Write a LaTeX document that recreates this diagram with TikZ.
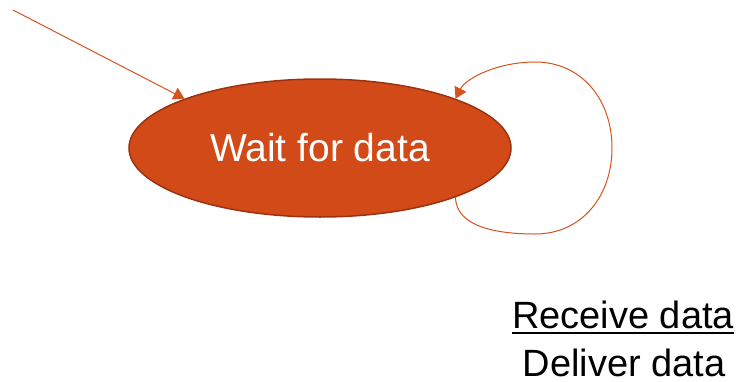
\documentclass[tikz,border=0pt]{standalone}
\usepackage{fontspec}
\setmainfont{Liberation Sans}
\usetikzlibrary{shapes.geometric,arrows.meta}
\definecolor{stateFill}{HTML}{D14A18}
\definecolor{stateEdge}{HTML}{9C3310}
\definecolor{flow}{HTML}{D4531F}
\tikzset{
  state/.style={ellipse, fill=stateFill, draw=stateEdge, line width=1.5pt,
    minimum width=382pt, minimum height=138pt, inner sep=0pt,
    text=white, font=\fontsize{39}{46}\selectfont},
  flowline/.style={draw=flow, line width=1pt,
    -{Triangle[length=11pt,width=13pt]}},
  caption/.style={inner sep=0pt, anchor=base, text depth=0pt,
    font=\fontsize{38}{45}\selectfont}
}
\begin{document}
\begin{tikzpicture}[x=1pt,y=-1pt]
  \useasboundingbox (0,0) rectangle (740,381);
  % the single waiting state
  \node[state] (wait) at (320,148) {Wait for data};
  % entry transition
  \coordinate (entry) at (13,10);
  \draw[flowline] (entry) -- (wait.160);
  % self transition on the right side
  \draw[flowline] (wait.-20)
    .. controls (456,228) and (500,234) .. (535,234)
    .. controls (582,234) and (612,196) .. (612,148)
    .. controls (612,100) and (582,62) .. (535,62)
    .. controls (498,62) and (466,78) .. (wait.20);
  % event / action label
  \node[caption] (recv) at (623,328) {Receive data};
  \draw[line width=1.6pt] ([yshift=-5pt]recv.base west) -- ([yshift=-5pt]recv.base east);
  \node[caption] (deliv) at (624,376) {Deliver data};
\end{tikzpicture}
\end{document}
